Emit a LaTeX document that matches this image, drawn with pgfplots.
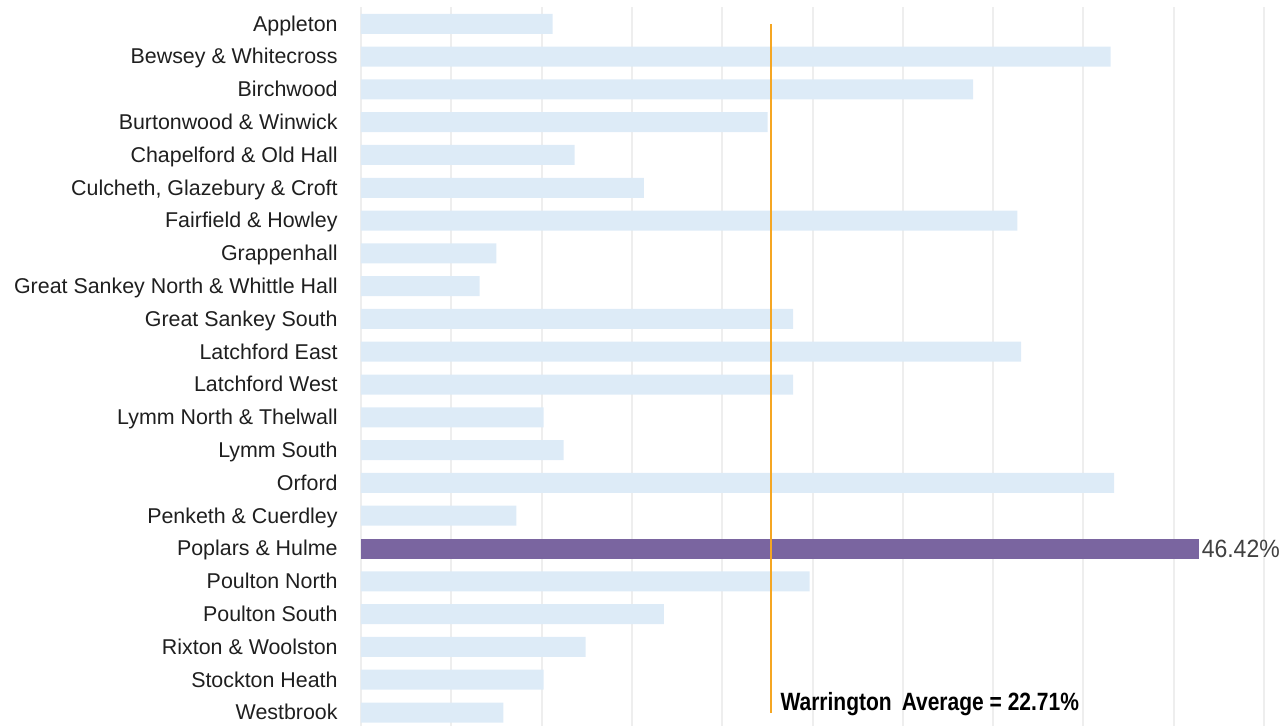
\documentclass[border=0pt]{standalone}
\usepackage{fontspec}
\setmainfont{Liberation Sans}
\newfontfamily\avgfamily[FakeStretch=0.84]{Liberation Sans}
\newfontfamily\valfamily[FakeStretch=0.92]{Liberation Sans}
\usepackage{pgfplots}
\pgfplotsset{compat=1.18}

\definecolor{barblue}{RGB}{221,235,247}
\definecolor{barpurple}{RGB}{122,101,160}
\definecolor{avgorange}{RGB}{245,166,35}
\definecolor{gridgray}{RGB}{238,238,238}
\definecolor{valgray}{RGB}{64,64,64}

\newcommand{\labelfont}{\fontsize{10.7}{12}\selectfont}
\newcommand{\avgfont}{\avgfamily\bfseries\fontsize{12.5}{14}\selectfont}
\newcommand{\valfont}{\valfamily\fontsize{12.5}{14}\selectfont}

\begin{document}
\begin{tikzpicture}
\begin{axis}[
    at={(0,0)}, anchor=south west,
    width=451.5pt, height=360.75pt, scale only axis,
    xmin=0, xmax=50,
    ymin=-0.5, ymax=21.5, y dir=reverse,
    xtick={0,5,...,50}, xticklabels={},
    ytick={0,...,21},
    yticklabels={Appleton, Bewsey \& Whitecross, Birchwood, Burtonwood \& Winwick,
        Chapelford \& Old Hall, {Culcheth, Glazebury \& Croft}, Fairfield \& Howley,
        Grappenhall, Great Sankey North \& Whittle Hall, Great Sankey South,
        Latchford East, Latchford West, Lymm North \& Thelwall, Lymm South, Orford,
        Penketh \& Cuerdley, Poplars \& Hulme, Poulton North, Poulton South,
        Rixton \& Woolston, Stockton Heath, Westbrook},
    xmajorgrids, major grid style={gridgray, line width=1pt},
    axis line style={draw=none}, tick style={draw=none},
    yticklabel style={font=\labelfont, text=black!88, anchor=east, inner sep=0pt,
        text height=7.7pt, text depth=2.3pt, xshift=-11.5pt, yshift=-1pt},
    clip=false,
]
% all wards except the highlighted one
\addplot[xbar, bar width=10pt, fill=barblue, draw=none] coordinates {
    (10.61,0) (41.50,1) (33.89,2) (22.51,3) (11.83,4) (15.66,5) (36.35,6)
    (7.49,7) (6.57,8) (23.93,9) (36.55,10) (23.93,11) (10.11,12) (11.22,13)
    (41.70,14) (8.60,15) (24.84,17) (16.77,18) (12.44,19) (10.11,20) (7.88,21)
};
% highlighted ward
\addplot[xbar, bar width=10pt, fill=barpurple, draw=none,
    point meta=x,
    nodes near coords={\pgfmathprintnumber[fixed,precision=2,fixed zerofill,assume math mode=true]{\pgfplotspointmeta}\%},
    every node near coord/.append style={font=\valfont, text=valgray, anchor=west, inner sep=1pt},
] coordinates {(46.42,16)};
% Warrington average
\addplot[avgorange, line width=1pt, no markers] coordinates {(22.71,0) (22.71,21)};
\node[anchor=west, inner sep=0pt, font=\avgfont, xshift=4.5pt] at (axis cs:22.71,20.74)
    {Warrington\hspace{0.4em}Average = 22.71\%};
\end{axis}
\pgfresetboundingbox
\path[use as bounding box] (-180.5pt,1.45pt) rectangle (461pt,364.45pt);
\end{tikzpicture}
\end{document}
